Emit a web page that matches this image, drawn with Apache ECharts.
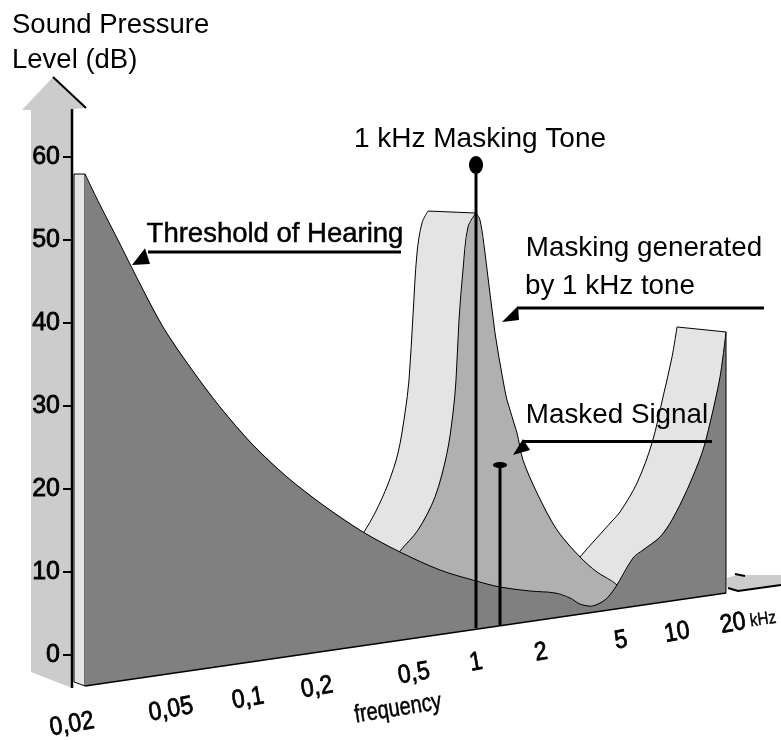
<!DOCTYPE html>
<html>
<head>
<meta charset="utf-8">
<script src="https://cdn.jsdelivr.net/npm/echarts@6/dist/echarts.min.js"></script>
<style>
  html, body { margin: 0; padding: 0; background: #fff; }
  #chart { width: 781px; height: 740px; }
</style>
</head>
<body>
<div id="chart"></div>
<script>
// every point is [position along the floor, dB]
const dbTicks = [0, 10, 20, 30, 40, 50, 60];

const thresholdCurve = [[85, 57.95], [100, 54.22], [118, 50.0], [137, 45.42], [163, 39.52], [190, 34.70],
  [220, 29.88], [253, 25.30], [287, 21.45], [323, 18.07], [363, 14.82], [400, 12.41], [440, 10.24], [476, 8.92],
  [500, 8.19], [530, 7.71], [555, 7.47], [570, 6.87], [580, 6.14], [592, 5.90], [605, 6.63], [615, 8.07],
  [633, 11.69], [643, 12.65], [660, 14.22], [672, 16.27], [687, 19.88], [702, 24.34], [710, 27.95], [720, 33.49],
  [726, 38.92]];
const floorEdge = [[726, 7.47], [85, -3.73]];

const maskLeftOuter = [[355, 13.25], [364, 14.82], [375, 17.11], [388, 20.60], [398, 24.34], [405, 29.16],
  [409, 33.13], [413, 40.96], [417, 48.43], [422, 52.05], [428, 53.49]];
const maskLeftInner = [[392, 11.20], [400, 12.53], [418, 15.06], [435, 19.04], [447, 24.34], [453, 29.16],
  [456, 33.13], [459, 40.36], [463, 46.39], [468, 51.57], [476, 53.25]];
const maskRight = [[476, 53.25], [480, 52.41], [485, 48.43], [495, 38.80], [503, 33.13], [507, 30.72],
  [517, 26.75], [523, 23.49], [537, 19.52], [557, 15.06], [580, 11.81], [597, 10.0], [617, 8.43], [625, 6.63]];
const maskBase = [[500, 4.22]];
const rightBandOuter = [[570, 10.24], [580, 11.81], [595, 13.86], [612, 16.14], [620, 17.23], [637, 20.72],
  [652, 25.54], [663, 31.08], [672, 35.90], [677, 39.52]];
const rightBandBase = [[726, 38.92], [726, 11.45], [616, 6.63]];

const sideBand = [[74, 57.95], [85, 57.95], [85, -3.73], [74, -3.25]];
const axisArrow = [[53, 69.64], [86, 65.9], [72, 65.78], [72, -3.98], [31, -2.05], [31, 65.66], [22, 65.66]];
const axisEdge = [[72, 65.78], [72, -3.98]];
const axisHeadEdge = [[53, 69.64], [86, 65.9]];
const floorScrap = [[727, 9.28], [737, 9.64], [781, 9.64], [781, 8.43], [737, 7.71], [727, 8.19]];
const floorScrapLow = [[728, 8.07], [738, 7.71], [781, 8.43]];
const floorScrapHigh = [[735, 9.76], [745, 9.52]];

const toneStem = [[476, 59.04], [476, 3.25]];
const signalStem = [[500, 22.89], [500, 3.61]];

const thresholdArrowLine = [[148, 48.55], [401, 48.55]];
const thresholdArrowHead = [[132, 46.99], [145, 49.0], [150, 47.11]];
const maskingArrowLine = [[518, 41.81], [764, 41.81]];
const maskingArrowHead = [[502, 40.12], [518, 42.05], [519, 40.36]];
const signalArrowLine = [[523, 25.72], [712, 25.72]];
const signalArrowHead = [[513, 24.10], [523, 26.02], [530, 24.70]];

const freqLabels = ['0,02', '0,05', '0,1', '0,2', '0,5', '1', '2', '5', '10', '20'];
const freqLabelX = [72, 171, 248, 317, 414, 476, 541, 621, 677, 733];
const freqLabelDb = [-8.39, -6.59, -5.26, -3.93, -2.25, -0.92, 0.28, 1.73, 2.69, 3.78];

const FONT = '"Liberation Sans", Arial, sans-serif';
const BLACK = '#000';

// polygon series, the fill and the outline are two elements so the outline can be smoothed
function area(name, pts, fill, z) {
  return {
    name, type: 'custom', coordinateSystem: 'cartesian2d', z, silent: true, data: pts,
    renderItem: (params, api) => {
      if (params.dataIndex !== 0) return null;
      return { type: 'polygon', shape: { points: pts.map((p) => api.coord(p)) }, style: { fill } };
    },
  };
}

function outline(name, pts, width, z, smooth) {
  return {
    name, type: 'custom', coordinateSystem: 'cartesian2d', z, silent: true, data: pts,
    renderItem: (params, api) => {
      if (params.dataIndex !== 0) return null;
      return {
        type: 'polyline',
        shape: { points: pts.map((p) => api.coord(p)), smooth: smooth || 0 },
        style: { stroke: BLACK, lineWidth: width, fill: null },
      };
    },
  };
}

function dot(name, pt, rx, ry, z) {
  return {
    name, type: 'custom', coordinateSystem: 'cartesian2d', z, silent: true, data: [pt],
    renderItem: (params, api) => {
      const c = api.coord(pt);
      return { type: 'ellipse', shape: { cx: c[0], cy: c[1], rx, ry }, style: { fill: BLACK } };
    },
  };
}

// text: [x, dB, string, size, rotation in degrees, scaleX, stroke, align]
function textSeries(name, items, z) {
  return {
    name, type: 'custom', coordinateSystem: 'cartesian2d', z, silent: true, data: items.map((t) => [t[0], t[1]]),
    renderItem: (params, api) => {
      const t = items[params.dataIndex];
      const c = api.coord([t[0], t[1]]);
      return {
        type: 'text', x: c[0], y: c[1], rotation: (t[4] * Math.PI) / 180, scaleX: t[5],
        style: {
          text: t[2], font: t[3] + 'px ' + FONT, fill: BLACK, stroke: t[6] ? BLACK : null, lineWidth: t[6],
          textAlign: t[7] || 'center', textVerticalAlign: 'middle',
        },
      };
    },
  };
}

const captions = [
  [12, 75.9, 'Sound Pressure', 27.5, 0, 1, 0, 'left'],
  [12, 71.69, 'Level (dB)', 27.5, 0, 1, 0, 'left'],
  [480, 62.17, '1 kHz Masking Tone', 28, 0, 1, 0],
  [275, 50.72, 'Threshold of Hearing', 27.5, 0, 1, 0.5],
  [644, 49.04, 'Masking generated', 27.8, 0, 1, 0],
  [610, 44.46, 'by 1 kHz tone', 27.8, 0, 1, 0],
  [617, 28.92, 'Masked Signal', 27.8, 0, 1, 0],
  [763, 4.26, 'kHz', 18, 8, 0.85, 0.4],
  [398, -6.47, 'frequency', 25, 9, 0.8, 0.5],
];
const freqItems = freqLabels.map((s, i) => [freqLabelX[i], freqLabelDb[i], s, 26, 10, 0.88, 0.8]);

const chart = echarts.init(document.getElementById('chart'));

chart.setOption({
  animation: false,
  backgroundColor: '#fff',
  grid: { left: 72, right: 0, top: 157, height: 498 },
  xAxis: { type: 'value', min: 72, max: 781, show: false },
  yAxis: {
    type: 'value', min: 0, max: 60, interval: 10, z: 3,
    axisLine: { show: false },
    splitLine: { show: false },
    axisTick: { show: true, length: 9, lineStyle: { color: BLACK, width: 2 } },
    axisLabel: {
      margin: 12, color: BLACK, fontSize: 25, fontFamily: FONT,
      textBorderColor: BLACK, textBorderWidth: 0.8,
      formatter: (v) => (dbTicks.includes(v) ? String(v) : ''),
    },
  },
  series: [
    area('axis arrow', axisArrow, '#cccccc', 1),
    outline('axis edge', axisEdge, 2.5, 2),
    outline('axis head edge', axisHeadEdge, 2, 2),
    area('floor scrap', floorScrap, '#cccccc', 1),
    outline('floor scrap low', floorScrapLow, 2, 2),
    outline('floor scrap high', floorScrapHigh, 2, 2),
    area('side band', sideBand, '#e4e4e4', 3),
    outline('side band edge', sideBand.concat([sideBand[0]]), 1, 3),

    area('right band', rightBandOuter.concat(rightBandBase), '#e4e4e4', 4),
    outline('right band edge', rightBandOuter, 1, 4, 0.33),
    outline('right band top', [rightBandOuter[rightBandOuter.length - 1], rightBandBase[0]], 1, 4),
    area('left band', maskLeftOuter.concat(maskLeftInner.slice().reverse()), '#e4e4e4', 4),
    outline('left band edge', maskLeftOuter, 1, 4, 0.33),
    outline('left band top', [maskLeftOuter[maskLeftOuter.length - 1], maskLeftInner[maskLeftInner.length - 1]], 1, 4),
    area('masking', maskLeftInner.concat(maskRight, maskBase), '#b0b0b0', 5),
    outline('masking left', maskLeftInner, 1, 5, 0.33),
    outline('masking right', maskRight, 1, 5, 0.33),

    area('threshold', thresholdCurve.concat(floorEdge), '#808080', 6),
    outline('threshold curve', thresholdCurve, 1, 6, 0.33),
    outline('floor edge', floorEdge, 1.5, 6),
    outline('right edge', [thresholdCurve[thresholdCurve.length - 1], floorEdge[0]], 1, 6),

    outline('masking tone', toneStem, 3, 7),
    dot('masking tone dot', toneStem[0], 7, 9, 7),
    outline('masked signal', signalStem, 3, 7),
    dot('masked signal dot', signalStem[0], 7, 3, 7),

    outline('threshold arrow', thresholdArrowLine, 3, 8),
    area('threshold arrow head', thresholdArrowHead, BLACK, 8),
    outline('masking arrow', maskingArrowLine, 3, 8),
    area('masking arrow head', maskingArrowHead, BLACK, 8),
    outline('signal arrow', signalArrowLine, 3, 8),
    area('signal arrow head', signalArrowHead, BLACK, 8),

    textSeries('captions', captions, 9),
    textSeries('frequency labels', freqItems, 9),
  ],
});
</script>
</body>
</html>
